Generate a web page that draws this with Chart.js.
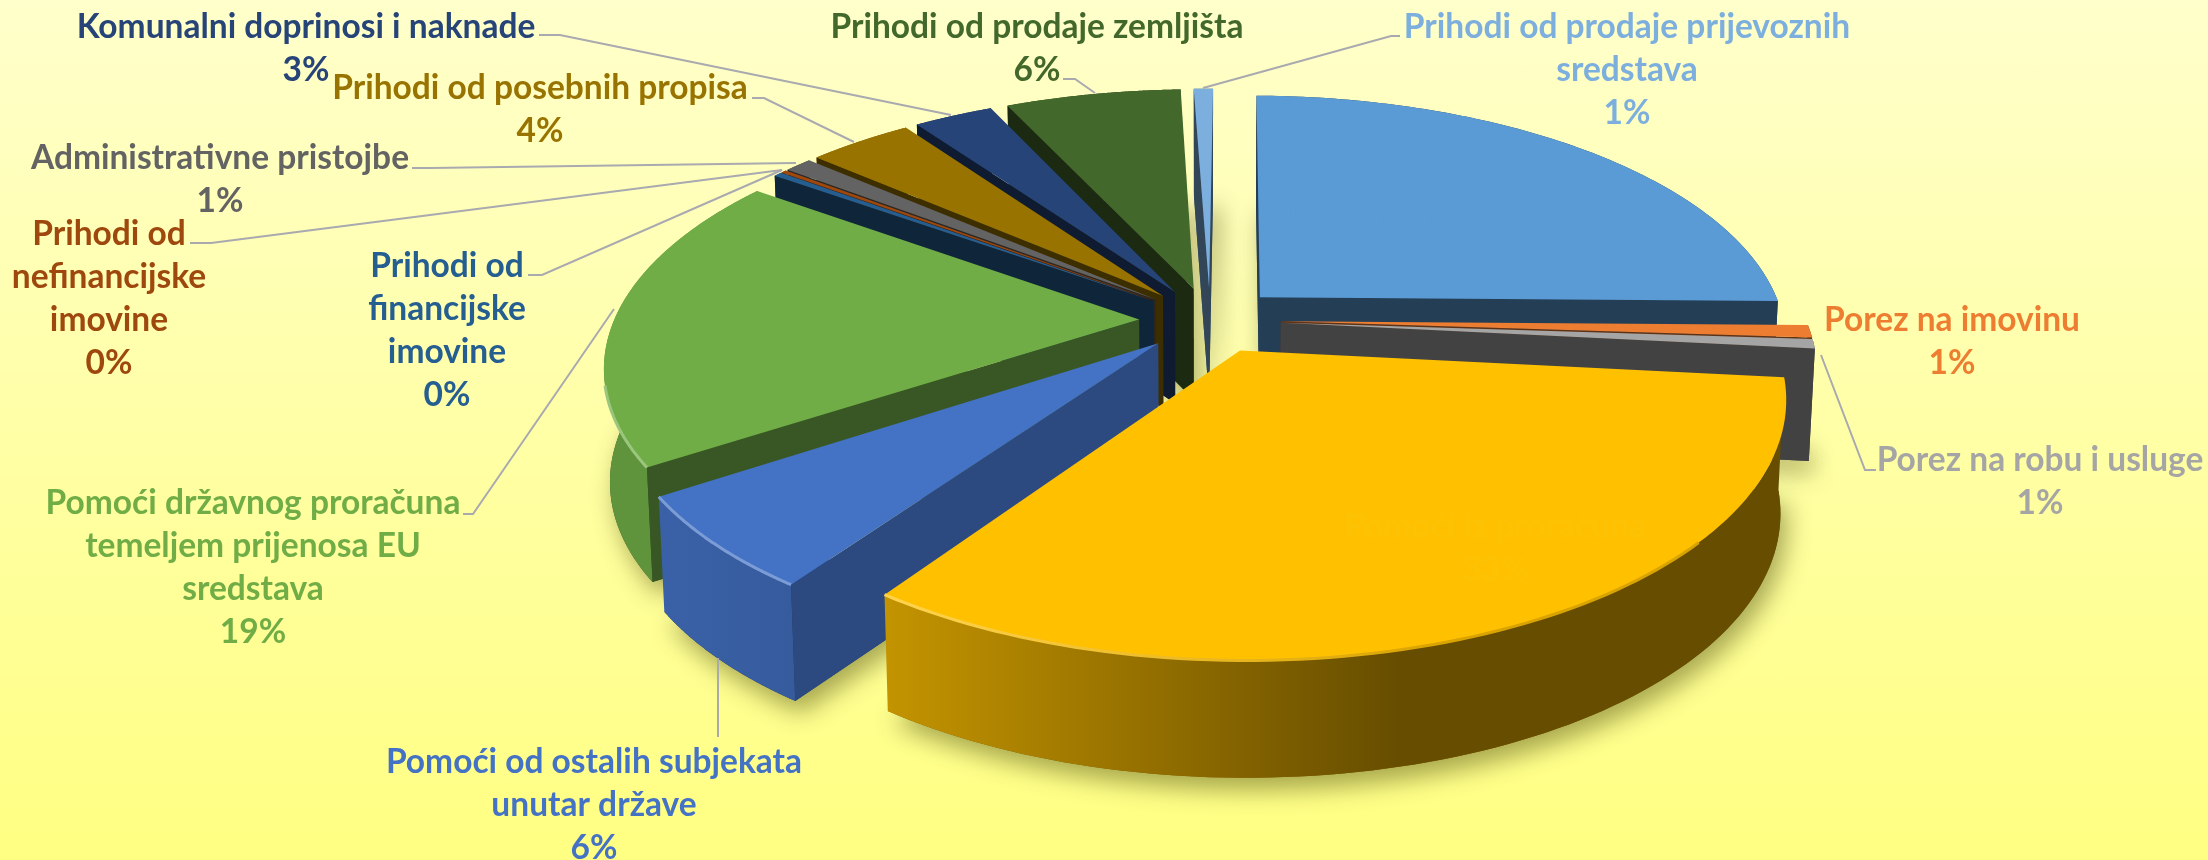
<!DOCTYPE html>
<html>
<head>
<meta charset="utf-8">
<style>
  html, body { margin: 0; padding: 0; background: linear-gradient(#ffffcb, #ffff82); }
  #wrap { width: 2208px; height: 860px; }
</style>
</head>
<body>
<div id="wrap"><canvas id="pie" width="2208" height="860"></canvas></div>
<script src="https://cdn.jsdelivr.net/npm/chart.js@4/dist/chart.umd.min.js"></script>
<script>
// DATA
const categories = [
  "Porez i prirez na dohodak", "Porez na imovinu", "Porez na robu i usluge",
  "Pomoći iz proračuna", "Pomoći od ostalih subjekata unutar države",
  "Pomoći državnog proračuna temeljem prijenosa EU sredstava",
  "Prihodi od financijske imovine", "Prihodi od nefinancijske imovine",
  "Administrativne pristojbe", "Prihodi od posebnih propisa",
  "Komunalni doprinosi i naknade", "Prihodi od prodaje zemljišta",
  "Prihodi od prodaje prijevoznih sredstava"
];
const values = [25.1, 0.8, 0.6, 33.1, 6.0, 19.1, 0.3, 0.2, 1.0, 3.8, 2.9, 6.4, 0.7];

// STYLE
const colors = ["#5B9BD5", "#ED7D31", "#A5A5A5", "#FFC000", "#4472C4", "#70AD47", "#255E91",
                "#9E480E", "#636363", "#997300", "#264478", "#43682B", "#7CAFDD"];
const wallShades = [0.4, 0.4, 0.4, 0.4, 0.65, 0.5, 0.4, 0.4, 0.4, 0.4, 0.4, 0.4, 0.4];
const labelColors = ["#5A9AD5", ...colors.slice(1, 3), "#FEC204", ...colors.slice(4)];

// LABEL LAYOUT: wrapped lines, centre x, first line y per slice
const labelLines = [
  ["Porez i prirez na dohodak"], ["Porez na imovinu"], ["Porez na robu i usluge"],
  ["Pomoći iz proračuna"], ["Pomoći od ostalih subjekata", "unutar države"],
  ["Pomoći državnog proračuna", "temeljem prijenosa EU", "sredstava"],
  ["Prihodi od", "financijske", "imovine"], ["Prihodi od", "nefinancijske", "imovine"],
  ["Administrativne pristojbe"], ["Prihodi od posebnih propisa"],
  ["Komunalni doprinosi i naknade"], ["Prihodi od prodaje zemljišta"],
  ["Prihodi od prodaje prijevoznih", "sredstava"]
];
const labelX = [1477, 1952, 2040, 1495, 594, 253, 447, 109, 220, 540, 306, 1037, 1627];
const labelY = [218, 320, 460, 527, 762, 503, 266, 234, 158, 88, 27, 27, 27];
const lineGap = 43;
const leaders = [
  [[539, 35], [560, 35], [951, 115]],
  [[752, 98], [764, 98], [854, 142]],
  [[412, 168], [430, 168], [796, 163]],
  [[190, 243], [211, 243], [782, 170]],
  [[528, 275], [542, 275], [782, 170]],
  [[463, 514], [473, 514], [614, 309]],
  [[718, 658], [718, 737]],
  [[1063, 79], [1075, 79], [1095, 93]],
  [[1400, 36], [1391, 36], [1203, 88]],
  [[1876, 470], [1865, 470], [1821, 355]]
];

// CAMERA
const centerX = 1210, centerY = 320;
const scaleX = 525, scaleY = 244, perspective = 0.174;
const explode = 0.135;
const rimSteps = 90;

// pie plane (x right, y away from viewer, r=1) to screen
function project(x, y, lowered) {
  const w = 1 + perspective * y;
  let sx = scaleX * x / w;
  let sy = -scaleY * y / w;
  if (lowered) {
    sx *= 0.99;
    sy += 112 / (1 + 0.04 * y);
  }
  return [centerX + sx, centerY + sy];
}

function shade(hex, k) {
  const n = parseInt(hex.slice(1), 16);
  return `rgb(${Math.round((n >> 16) * k)},${Math.round(((n >> 8) & 255) * k)},${Math.round((n & 255) * k)})`;
}

function lighten(hex, k) {
  const n = parseInt(hex.slice(1), 16);
  const up = c => Math.round(c + (255 - c) * k);
  return `rgb(${up(n >> 16)},${up((n >> 8) & 255)},${up(n & 255)})`;
}

function midAngle(el) { return (el.startAngle + el.endAngle) / 2; }

function slicePoint(el, angle, radius, lowered) {
  const m = midAngle(el);
  const x = radius * Math.cos(angle) + explode * Math.cos(m);
  const y = -radius * Math.sin(angle) - explode * Math.sin(m);
  return project(x, y, lowered);
}

function rimPoints(el, lowered) {
  const pts = [];
  for (let i = 0; i <= rimSteps; i++) {
    pts.push(slicePoint(el, el.startAngle + (el.endAngle - el.startAngle) * i / rimSteps, 1, lowered));
  }
  return pts;
}

function fillPath(ctx, pts) {
  ctx.beginPath();
  pts.forEach((p, i) => (i ? ctx.lineTo(p[0], p[1]) : ctx.moveTo(p[0], p[1])));
  ctx.closePath();
  ctx.fill();
}

// the library draws the top face, every coordinate it asks for goes through the camera
function cameraContext(ctx, el) {
  const toScreen = (px, py) => {
    const r = Math.hypot(px - el.x, py - el.y) / el.outerRadius;
    const a = Math.atan2(py - el.y, px - el.x);
    return slicePoint(el, a, r, false);
  };
  return new Proxy(ctx, {
    get(t, k) {
      if (k === "lineTo" || k === "moveTo") {
        return (x, y) => { const p = toScreen(x, y); t[k](p[0], p[1]); };
      }
      if (k === "arc") {
        return (x, y, r, a0, a1, ccw) => {
          for (let i = 0; i <= rimSteps; i++) {
            const a = a0 + (a1 - a0) * i / rimSteps;
            const p = toScreen(x + r * Math.cos(a), y + r * Math.sin(a));
            t.lineTo(p[0], p[1]);
          }
        };
      }
      const v = t[k];
      return typeof v === "function" ? v.bind(t) : v;
    },
    set(t, k, v) { t[k] = v; return true; }
  });
}

function rimGradient(ctx, hex) {
  const g = ctx.createLinearGradient(660, 0, 1400, 0);
  g.addColorStop(0, shade(hex, 0.85));
  g.addColorStop(0.3, shade(hex, 0.77));
  g.addColorStop(1, shade(hex, 0.4));
  return g;
}

function drawRadialWall(ctx, el, angle, inside, color) {
  const a = slicePoint(el, 0, 0, false), p = slicePoint(el, angle, 1, false);
  const m = slicePoint(el, inside, 1, false);
  const side = (p[0] - a[0]) * (m[1] - a[1]) - (p[1] - a[1]) * (m[0] - a[0]);
  const down = p[0] - a[0];
  if (side * down > 0) return; // faces away from the viewer
  ctx.fillStyle = color;
  fillPath(ctx, [a, p, slicePoint(el, angle, 1, true), slicePoint(el, 0, 0, true)]);
}

function edgeGradient(ctx, hex) {
  const g = ctx.createLinearGradient(900, 0, 1450, 0);
  g.addColorStop(0, lighten(hex, 0.3));
  g.addColorStop(1, shade(hex, 0.85));
  return g;
}

const pie3d = {
  id: "pie3d",
  beforeDatasetDraw(chart) {
    const ctx = chart.ctx;
    const arcs = chart.getDatasetMeta(0).data;
    const order = arcs.map((el, i) => i).sort((p, q) => Math.sin(midAngle(arcs[q])) * -1 < Math.sin(midAngle(arcs[p])) * -1 ? -1 : 1);

    // soft shadow on the background
    ctx.save();
    ctx.shadowColor = "rgba(60,60,0,0.45)";
    ctx.shadowBlur = 24;
    ctx.shadowOffsetX = 6;
    ctx.shadowOffsetY = 12;
    arcs.forEach((el, i) => {
      ctx.fillStyle = shade(colors[i], 0.5);
      fillPath(ctx, [slicePoint(el, 0, 0, true), ...rimPoints(el, true)]);
    });
    ctx.restore();

    order.forEach(i => {
      const el = arcs[i], hex = colors[i];
      ctx.save();
      ctx.fillStyle = rimGradient(ctx, hex);
      fillPath(ctx, [...rimPoints(el, false), ...rimPoints(el, true).reverse()]);
      const wall = shade(hex, wallShades[i]);
      drawRadialWall(ctx, el, el.endAngle, midAngle(el), wall);
      drawRadialWall(ctx, el, el.startAngle, midAngle(el), wall);
      el.draw(cameraContext(ctx, el));

      // lit edge along the front rim
      ctx.strokeStyle = edgeGradient(ctx, hex);
      ctx.lineWidth = 3;
      ctx.beginPath();
      let pen = false;
      for (let s = 0; s <= rimSteps; s++) {
        const a = el.startAngle + (el.endAngle - el.startAngle) * s / rimSteps;
        const p = slicePoint(el, a, 1, false);
        if (Math.sin(a) > 0.25 && Math.cos(a) < 0.75) {
          pen ? ctx.lineTo(p[0], p[1]) : ctx.moveTo(p[0], p[1]);
          pen = true;
        }
      }
      ctx.stroke();
      ctx.restore();
    });
    return false;
  },
  afterDatasetsDraw(chart) {
    const ctx = chart.ctx;
    const total = values.reduce((a, b) => a + b, 0);
    ctx.save();
    ctx.strokeStyle = "#A9A9B0";
    ctx.lineWidth = 2;
    leaders.forEach(pts => {
      ctx.beginPath();
      pts.forEach((p, i) => (i ? ctx.lineTo(p[0], p[1]) : ctx.moveTo(p[0], p[1])));
      ctx.stroke();
    });
    ctx.font = 'bold 33.5px Lato';
    ctx.textAlign = "center";
    ctx.textBaseline = "middle";
    labelLines.forEach((lines, i) => {
      ctx.fillStyle = labelColors[i];
      [...lines, Math.round(values[i] / total * 100) + "%"].forEach((line, n) => {
        ctx.fillText(line, labelX[i], labelY[i] + n * lineGap);
      });
    });
    ctx.restore();
  }
};

new Chart(document.getElementById("pie"), {
  type: "pie",
  data: {
    labels: categories,
    datasets: [{ data: values, backgroundColor: colors, borderWidth: 0 }]
  },
  options: {
    responsive: false,
    animation: false,
    rotation: 0.5,
    plugins: { legend: { display: false }, tooltip: { enabled: false } }
  },
  plugins: [pie3d]
});
</script>
</body>
</html>
